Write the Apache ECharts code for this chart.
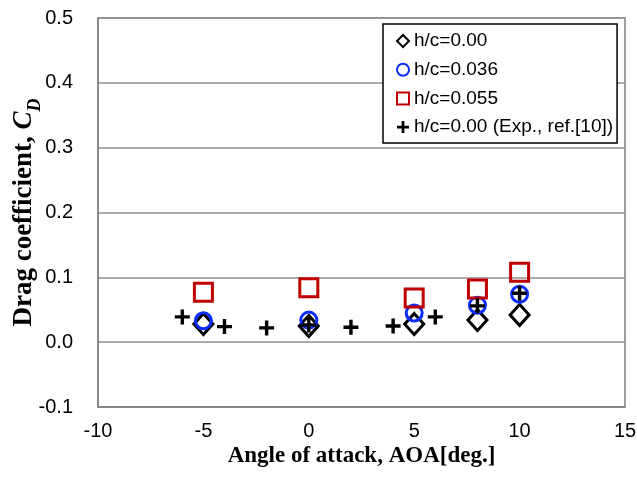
<!DOCTYPE html>
<html>
<head>
<meta charset="utf-8">
<script src="https://cdn.jsdelivr.net/npm/echarts@6/dist/echarts.min.js"></script>
<style>
  html, body { margin: 0; padding: 0; background: #fff; }
  #chart { width: 637px; height: 477px; }
</style>
</head>
<body>
<div id="chart"></div>
<script>
// Drag coefficient versus angle of attack for several ground clearances
const aoaCfd = [-5, 0, 5, 8, 10];
const cdH000 = [0.028, 0.025, 0.028, 0.034, 0.042];
const cdH036 = [0.033, 0.034, 0.045, 0.057, 0.074];
const cdH055 = [0.077, 0.084, 0.068, 0.082, 0.108];

const aoaExp = [-6, -4, -2, 0, 2, 4, 6, 8, 10];
const cdExp = [0.039, 0.024, 0.022, 0.0265, 0.023, 0.025, 0.039, 0.056, 0.0755];

const seriesNames = ['h/c=0.00', 'h/c=0.036', 'h/c=0.055', 'h/c=0.00 (Exp., ref.[10])'];

const xTicks = { min: -10, max: 15, interval: 5 };
const yTicks = { min: -0.1, max: 0.5, interval: 0.1 };

const pairs = (xs, ys) => xs.map((x, i) => [x, ys[i]]);

// filled cross outline used for the experimental points
const plusPath = 'path://M5.4,0H8.6V5.4H14V8.6H8.6V14H5.4V8.6H0V5.4H5.4Z';

const serif = 'Liberation Serif, Times New Roman, serif';
const sans = 'Liberation Sans, Arial, sans-serif';

const chart = echarts.init(document.getElementById('chart'), null, { renderer: 'canvas' });

chart.setOption({
  animation: false,
  backgroundColor: '#ffffff',
  grid: {
    left: 98, top: 18, right: 12, bottom: 70,
    outerBoundsMode: 'none',
    containLabel: false,
    show: true, borderColor: '#808080', borderWidth: 1.5, backgroundColor: 'transparent'
  },
  legend: {
    orient: 'vertical',
    left: 383, top: 24,
    padding: [7, 4, 6, 13],
    itemGap: 8.7,
    itemWidth: 12, itemHeight: 12,
    backgroundColor: '#ffffff',
    borderColor: '#000000', borderWidth: 1.5, borderRadius: 0,
    textStyle: { fontFamily: sans, fontSize: 19, color: '#000', lineHeight: 20 },
    data: seriesNames
  },
  xAxis: {
    type: 'value',
    min: xTicks.min, max: xTicks.max, interval: xTicks.interval,
    name: 'Angle of attack, AOA[deg.]',
    nameLocation: 'middle', nameGap: 38, nameMoveOverlap: false,
    nameTextStyle: { fontFamily: serif, fontWeight: 'bold', fontSize: 23, color: '#000' },
    axisLine: { show: true, onZero: false, lineStyle: { color: '#808080', width: 1.5 } },
    axisTick: { show: false },
    splitLine: { show: false },
    axisLabel: { margin: 14, fontFamily: sans, fontSize: 20, color: '#000' }
  },
  yAxis: {
    type: 'value',
    min: yTicks.min, max: yTicks.max, interval: yTicks.interval,
    name: '{a|Drag coefficient, }{c|C}{d|D}',
    nameLocation: 'middle', nameRotate: 90, nameGap: 60, nameMoveOverlap: false,
    nameTextStyle: {
      fontFamily: serif, fontWeight: 'bold', fontSize: 27, color: '#000',
      rich: {
        a: { fontFamily: serif, fontWeight: 'bold', fontSize: 27, color: '#000', lineHeight: 30, verticalAlign: 'bottom' },
        c: { fontFamily: serif, fontWeight: 'bold', fontStyle: 'italic', fontSize: 27, color: '#000', lineHeight: 30, verticalAlign: 'bottom' },
        d: { fontFamily: serif, fontWeight: 'bold', fontStyle: 'italic', fontSize: 18, color: '#000', lineHeight: 30, verticalAlign: 'bottom', padding: [0, 0, -6, 0] }
      }
    },
    axisLine: { show: true, onZero: false, lineStyle: { color: '#808080', width: 1.5 } },
    axisTick: { show: false },
    splitLine: { show: true, lineStyle: { color: '#909090', width: 1.5 } },
    axisLabel: {
      margin: 25, fontFamily: sans, fontSize: 20, color: '#000',
      formatter: v => v.toFixed(1)
    }
  },
  series: [
    {
      name: seriesNames[0], type: 'scatter', data: pairs(aoaCfd, cdH000),
      symbol: 'diamond', symbolSize: [19, 21],
      itemStyle: { color: 'rgba(0,0,0,0)', borderColor: '#000000', borderWidth: 3, opacity: 1 },
      z: 2
    },
    {
      name: seriesNames[1], type: 'scatter', data: pairs(aoaCfd, cdH036),
      symbol: 'circle', symbolSize: 16,
      itemStyle: { color: 'rgba(0,0,0,0)', borderColor: '#0a2cff', borderWidth: 3, opacity: 1 },
      z: 3
    },
    {
      name: seriesNames[2], type: 'scatter', data: pairs(aoaCfd, cdH055),
      symbol: 'rect', symbolSize: 18,
      itemStyle: { color: 'rgba(0,0,0,0)', borderColor: '#c00000', borderWidth: 3, opacity: 1 },
      z: 4
    },
    {
      name: seriesNames[3], type: 'scatter', data: pairs(aoaExp, cdExp),
      symbol: plusPath, symbolSize: 15,
      itemStyle: { color: '#000000', opacity: 1 },
      z: 5
    }
  ]
});
</script>
</body>
</html>
